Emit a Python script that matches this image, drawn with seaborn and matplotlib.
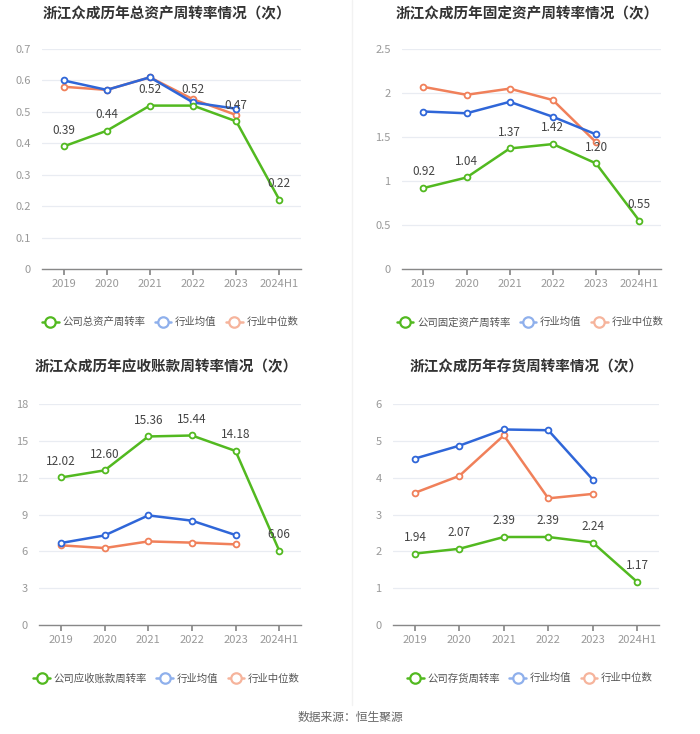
import pandas as pd
import matplotlib.pyplot as plt
import seaborn as sns
import numpy as np
from matplotlib.lines import Line2D

sns.set_theme(style='white')
plt.rcParams['font.family'] = ['Noto Sans CJK SC', 'DejaVu Sans']

years = ['2019', '2020', '2021', '2022', '2023', '2024H1']
years_ind = ['2019', '2020', '2021', '2022', '2023']

# 总资产周转率
total_company = [0.39, 0.44, 0.52, 0.52, 0.47, 0.22]
total_avg = [0.60, 0.57, 0.61, 0.53, 0.51]
total_median = [0.58, 0.57, 0.61, 0.54, 0.49]

# 固定资产周转率
fixed_company = [0.92, 1.04, 1.37, 1.42, 1.20, 0.55]
fixed_avg = [1.79, 1.77, 1.90, 1.73, 1.53]
fixed_median = [2.07, 1.98, 2.05, 1.92, 1.44]

# 应收账款周转率
recv_company = [12.02, 12.60, 15.36, 15.44, 14.18, 6.06]
recv_avg = [6.68, 7.30, 8.93, 8.50, 7.33]
recv_median = [6.49, 6.27, 6.81, 6.71, 6.57]

# 存货周转率
inv_company = [1.94, 2.07, 2.39, 2.39, 2.24, 1.17]
inv_avg = [4.52, 4.87, 5.31, 5.29, 3.95]
inv_median = [3.59, 4.05, 5.15, 3.44, 3.56]

# 颜色
c_green = '#52b920'
c_blue = '#2f66d8'
c_orange = '#f0805a'

panels = [
    {'title': '浙江众成历年总资产周转率情况（次）', 'name': '公司总资产周转率',
     'company': total_company, 'avg': total_avg, 'median': total_median,
     'ylim': 0.7, 'step': 0.1,
     'rect': [0.060, 0.6335, 0.370, 0.2997], 'tx': 0.238, 'ty': 0.993, 'lx': 0.243, 'ly': 0.561},
    {'title': '浙江众成历年固定资产周转率情况（次）', 'name': '公司固定资产周转率',
     'company': fixed_company, 'avg': fixed_avg, 'median': fixed_median,
     'ylim': 2.5, 'step': 0.5,
     'rect': [0.574, 0.6335, 0.370, 0.2997], 'tx': 0.753, 'ty': 0.993, 'lx': 0.757, 'ly': 0.561},
    {'title': '浙江众成历年应收账款周转率情况（次）', 'name': '公司应收账款周转率',
     'company': recv_company, 'avg': recv_avg, 'median': recv_median,
     'ylim': 18, 'step': 3,
     'rect': [0.056, 0.1485, 0.374, 0.301], 'tx': 0.238, 'ty': 0.512, 'lx': 0.238, 'ly': 0.076},
    {'title': '浙江众成历年存货周转率情况（次）', 'name': '公司存货周转率',
     'company': inv_company, 'avg': inv_avg, 'median': inv_median,
     'ylim': 6, 'step': 1,
     'rect': [0.561, 0.1485, 0.381, 0.301], 'tx': 0.753, 'ty': 0.512, 'lx': 0.757, 'ly': 0.076},
]

fig = plt.figure(figsize=(7, 7.34), dpi=100)
fig.patch.set_facecolor('white')

for p in panels:
    ax = fig.add_axes(p['rect'])
    df_c = pd.DataFrame({'x': np.arange(len(years)), 'y': p['company']})
    df_a = pd.DataFrame({'x': np.arange(len(years_ind)), 'y': p['avg']})
    df_m = pd.DataFrame({'x': np.arange(len(years_ind)), 'y': p['median']})

    style = dict(marker='o', markersize=4.2, markerfacecolor='white',
                 markeredgewidth=1.3, linewidth=1.8, zorder=3)
    sns.lineplot(data=df_m, x='x', y='y', ax=ax, color=c_orange,
                 markeredgecolor=c_orange, **style)
    sns.lineplot(data=df_a, x='x', y='y', ax=ax, color=c_blue,
                 markeredgecolor=c_blue, **style)
    sns.lineplot(data=df_c, x='x', y='y', ax=ax, color=c_green,
                 markeredgecolor=c_green, **style)

    for i, v in enumerate(p['company']):
        ax.annotate(f'{v:.2f}', (i, v), xytext=(0, 7), textcoords='offset points',
                    ha='center', va='bottom', fontsize=8.5, color='#444444', zorder=5)

    ax.set_xlim(-0.5, len(years) - 0.5)
    ax.set_ylim(0, p['ylim'])
    ticks = np.arange(0, p['ylim'] + p['step'] / 2, p['step'])
    ax.set_yticks(ticks)
    ax.set_yticklabels([f'{t:g}' for t in ticks])
    ax.set_xticks(np.arange(len(years)))
    ax.set_xticklabels(years)
    ax.set_xlabel('')
    ax.set_ylabel('')
    ax.grid(axis='y', color='#e9ecf2', linewidth=0.9)
    ax.set_axisbelow(True)
    for s in ['top', 'right', 'left']:
        ax.spines[s].set_visible(False)
    ax.spines['bottom'].set_color('#888888')
    ax.spines['bottom'].set_linewidth(1.0)
    ax.tick_params(axis='x', length=4, color='#888888', labelsize=8, labelcolor='#999999', pad=3,
                   bottom=True)
    ax.tick_params(axis='y', length=0, labelsize=8, labelcolor='#999999', pad=8)

    fig.text(p['tx'], p['ty'], p['title'], ha='center', va='top', fontsize=10.5,
             fontweight='bold', color='#333333')

    handles = [
        Line2D([0], [0], color=c_green, linewidth=1.8, marker='o', markersize=7.5,
               markerfacecolor='white', markeredgecolor=c_green, markeredgewidth=1.6),
        Line2D([0], [0], color='#8fb0ec', linewidth=1.8, marker='o', markersize=7.5,
               markerfacecolor='white', markeredgecolor='#8fb0ec', markeredgewidth=1.6),
        Line2D([0], [0], color='#f6b49c', linewidth=1.8, marker='o', markersize=7.5,
               markerfacecolor='white', markeredgecolor='#f6b49c', markeredgewidth=1.6),
    ]
    ax.legend(handles, [p['name'], '行业均值', '行业中位数'], loc='center',
              bbox_to_anchor=(p['lx'], p['ly']), bbox_transform=fig.transFigure,
              ncol=3, frameon=False, fontsize=7.5, handlelength=1.6, handletextpad=0.35,
              columnspacing=0.9, labelcolor='#555555')

# 分隔线
fig.add_artist(Line2D([0.503, 0.503], [0.04, 1.0], transform=fig.transFigure,
                      color='#f2f2f2', linewidth=1.0))

fig.text(0.5, 0.023, '数据来源：恒生聚源', ha='center', va='center', fontsize=8.5, color='#666666')

plt.savefig('out.png', dpi=100)
